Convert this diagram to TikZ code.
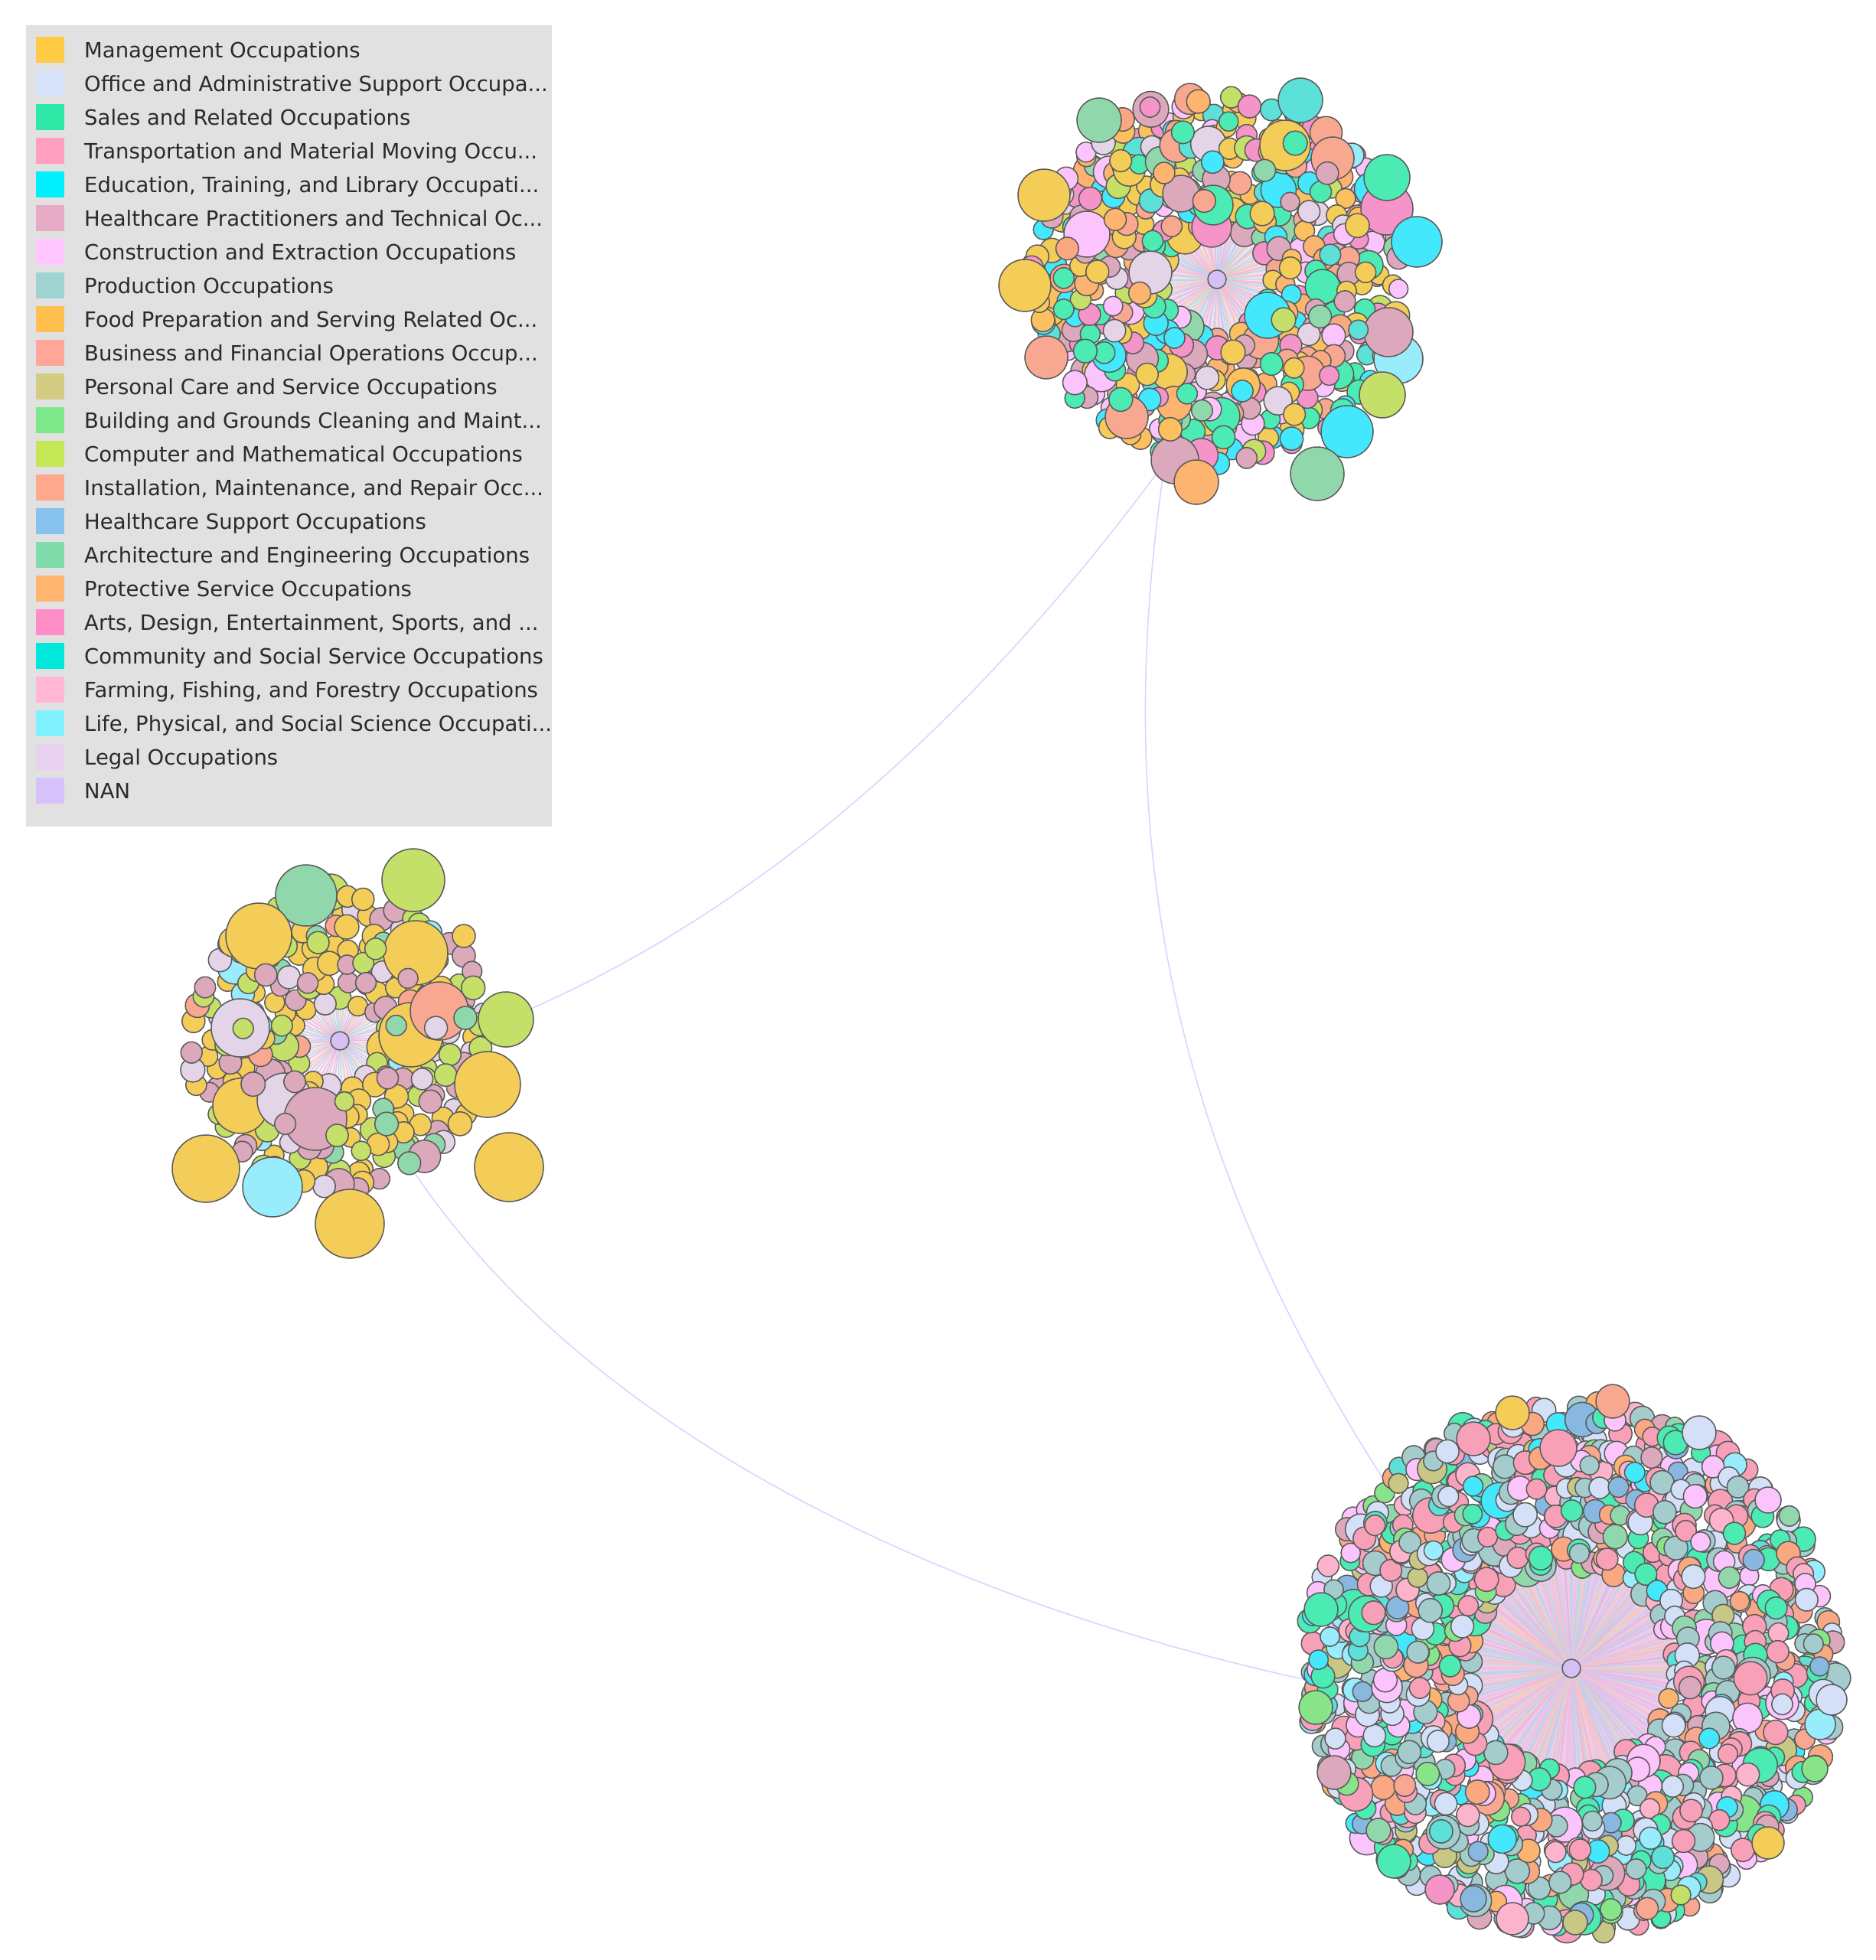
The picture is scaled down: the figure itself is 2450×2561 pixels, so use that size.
\documentclass[tikz,border=0pt]{standalone}
\usepackage{fontspec}
\setmainfont{DejaVu Sans}
% bubble colours
\definecolor{cMgmt}{HTML}{F4CC58}
\definecolor{cOffice}{HTML}{D4E0F8}
\definecolor{cSales}{HTML}{4CEBB4}
\definecolor{cTrans}{HTML}{F8A0B8}
\definecolor{cEdu}{HTML}{44E8FC}
\definecolor{cHP}{HTML}{DCA8BC}
\definecolor{cCons}{HTML}{FCC4FC}
\definecolor{cProd}{HTML}{A4CCCC}
\definecolor{cFood}{HTML}{FCC060}
\definecolor{cBus}{HTML}{F8A890}
\definecolor{cPers}{HTML}{C8C884}
\definecolor{cBldg}{HTML}{88E488}
\definecolor{cComp}{HTML}{C4E068}
\definecolor{cInst}{HTML}{F9A882}
\definecolor{cHS}{HTML}{88B8E0}
\definecolor{cArch}{HTML}{90D8AC}
\definecolor{cProt}{HTML}{FCB470}
\definecolor{cArts}{HTML}{F494C8}
\definecolor{cComm}{HTML}{5CE0D8}
\definecolor{cFarm}{HTML}{FCB4CC}
\definecolor{cLife}{HTML}{98ECFC}
\definecolor{cLegal}{HTML}{E4D4E8}
\definecolor{cNAN}{HTML}{D4C0F4}
\definecolor{cEdge}{HTML}{5A5A5A}
\definecolor{cLink}{HTML}{DCD4FF}
% legend colours
\definecolor{lMgmt}{HTML}{FFCB45}
\definecolor{lOffice}{HTML}{D5E2FA}
\definecolor{lSales}{HTML}{2EE8A8}
\definecolor{lTrans}{HTML}{FF9EBF}
\definecolor{lEdu}{HTML}{00F0FF}
\definecolor{lHP}{HTML}{E6AAC4}
\definecolor{lCons}{HTML}{FFC6FF}
\definecolor{lProd}{HTML}{9ED3D2}
\definecolor{lFood}{HTML}{FFC050}
\definecolor{lBus}{HTML}{FFA698}
\definecolor{lPers}{HTML}{D4CC82}
\definecolor{lBldg}{HTML}{7DE98A}
\definecolor{lComp}{HTML}{C5E655}
\definecolor{lInst}{HTML}{FFA88E}
\definecolor{lHS}{HTML}{88C2EE}
\definecolor{lArch}{HTML}{80DCAA}
\definecolor{lProt}{HTML}{FFB56F}
\definecolor{lArts}{HTML}{FF8DC8}
\definecolor{lComm}{HTML}{00E8DA}
\definecolor{lFarm}{HTML}{FFB7D3}
\definecolor{lLife}{HTML}{80F2FF}
\definecolor{lLegal}{HTML}{E9D2EF}
\definecolor{lNAN}{HTML}{D7C1FA}
\definecolor{lBack}{HTML}{E1E1E1}
\definecolor{cText}{HTML}{2A2A2A}
% spoke colours
\definecolor{spA}{HTML}{F0B4DC}
\definecolor{spB}{HTML}{C2D0F0}
\definecolor{spC}{HTML}{F4C4C8}
\definecolor{spD}{HTML}{DCC2EE}
\definecolor{spE}{HTML}{B4DCE4}
\definecolor{spF}{HTML}{F2BEE6}
\definecolor{spG}{HTML}{F8CCB8}
\definecolor{discB}{HTML}{EACDE8}
\definecolor{discT}{HTML}{EEE2F2}
\definecolor{discL}{HTML}{F4ECF0}

\pgfmathdeclarerandomlist{palTop}{{cEdu}{cEdu}{cEdu}{cSales}{cSales}{cSales}{cMgmt}{cMgmt}{cMgmt}{cHP}{cHP}{cHP}{cBus}{cBus}{cInst}{cArts}{cArts}{cCons}{cCons}{cComp}{cArch}{cProt}{cProt}{cLegal}{cComm}{cFood}}
\pgfmathdeclarerandomlist{palLeft}{{cMgmt}{cMgmt}{cMgmt}{cMgmt}{cMgmt}{cMgmt}{cMgmt}{cMgmt}{cComp}{cComp}{cComp}{cComp}{cHP}{cHP}{cHP}{cLegal}{cLegal}{cBus}{cArch}{cLife}}
\pgfmathdeclarerandomlist{palLeftTop}{{cHP}{cHP}{cHP}{cComp}{cComp}{cLegal}{cArch}{cBus}}
\pgfmathdeclarerandomlist{palBot}{{cProd}{cProd}{cProd}{cProd}{cProd}{cProd}{cOffice}{cOffice}{cOffice}{cOffice}{cOffice}{cTrans}{cTrans}{cTrans}{cTrans}{cTrans}{cTrans}{cSales}{cSales}{cSales}{cSales}{cCons}{cCons}{cCons}{cBus}{cInst}{cInst}{cProt}{cPers}{cBldg}{cHS}{cEdu}{cFarm}{cArch}{cComm}{cHP}{cLife}}
\pgfmathdeclarerandomlist{spokeList}{{spA}{spB}{spC}{spD}{spE}{spF}{spG}}

\tikzset{
  bub/.style={line width=1.5pt, draw=cEdge},
  link/.style={draw=cLink, line width=1.6pt},
  hubnode/.style={circle, minimum size=24pt, inner sep=0pt, fill=cNAN, draw=cEdge, line width=1.5pt},
  legtext/.style={font=\fontsize{27.5}{33}\selectfont, text=cText, inner sep=0pt, anchor=base west},
}

% rings of bubbles: hx, hy, radii list, spacing, palette, share of big ones
\newcommand\bubrings[6]{%
  \foreach \rrho in {#3}{%
    \pgfmathtruncatemacro\ncount{6.28318*\rrho/#4}%
    \pgfmathsetmacro\astep{360/\ncount}%
    \pgfmathsetmacro\aoff{360*rnd}%
    \foreach \jj in {1,...,\ncount}{%
      \pgfmathsetmacro\aang{\aoff+\astep*\jj+4*rand}%
      \pgfmathsetmacro\rrad{\rrho+7*rand}%
      \pgfmathsetmacro\crad{(rnd<#6) ? (18+6*rnd) : (12.5+3.5*rnd)}%
      \pgfmathrandomitem\bcol{#5}%
      \filldraw[bub, fill=\bcol] ({#1+\rrad*cos(\aang)},{#2+\rrad*sin(\aang)}) circle[radius=\crad pt];
    }%
  }%
}
\newcommand\bb[4]{\filldraw[bub, fill=#4] (#1,#2) circle[radius=#3pt];}
% spokes: hx, hy, length, count, width
\newcommand\spokes[5]{%
  \pgfmathsetmacro\sstep{360/#4}%
  \foreach \kk in {1,...,#4}{%
    \pgfmathsetmacro\sang{\sstep*\kk+1.5*rand}%
    \pgfmathrandomitem\scol{spokeList}%
    \draw[\scol, line width=#5pt] (#1,#2) -- ({#1+#3*cos(\sang)},{#2+#3*sin(\sang)});
  }%
}
\newcommand\legitem[3]{%
  \fill[#2] (46.5,{65+44*(#1-1)-17}) rectangle ++(37,34);
  \node[legtext] (leg#1) at (110,{65+44*(#1-1)+10.5}) {#3};
}

\begin{document}
\begin{tikzpicture}[x=1pt, y=-1pt, line join=round]
\pgfmathsetseed{7}
\fill[white] (0,0) rectangle (2450,2561);
\useasboundingbox (0,0) rectangle (2450,2561);

% ---------- connectors between clusters ----------
\coordinate (eT) at (1522,604);
\coordinate (eL1) at (661,1332);
\coordinate (eL2) at (536,1524);
\coordinate (eB1) at (1845,1990);
\coordinate (eB2) at (1780,2210);
\draw[link] (eT) .. controls (1290,920) and (1005,1190) .. (eL1);
\draw[link] (eT) .. controls (1438,1164) and (1565,1575) .. (eB1);
\draw[link] (eL2) .. controls (783,1897) and (1290,2115) .. (eB2);

% ---------- legend ----------
\fill[lBack] (34,33) rectangle (721,1080);
\legitem{1}{lMgmt}{Management Occupations}
\legitem{2}{lOffice}{Office and Administrative Support Occupa...}
\legitem{3}{lSales}{Sales and Related Occupations}
\legitem{4}{lTrans}{Transportation and Material Moving Occu...}
\legitem{5}{lEdu}{Education, Training, and Library Occupati...}
\legitem{6}{lHP}{Healthcare Practitioners and Technical Oc...}
\legitem{7}{lCons}{Construction and Extraction Occupations}
\legitem{8}{lProd}{Production Occupations}
\legitem{9}{lFood}{Food Preparation and Serving Related Oc...}
\legitem{10}{lBus}{Business and Financial Operations Occup...}
\legitem{11}{lPers}{Personal Care and Service Occupations}
\legitem{12}{lBldg}{Building and Grounds Cleaning and Maint...}
\legitem{13}{lComp}{Computer and Mathematical Occupations}
\legitem{14}{lInst}{Installation, Maintenance, and Repair Occ...}
\legitem{15}{lHS}{Healthcare Support Occupations}
\legitem{16}{lArch}{Architecture and Engineering Occupations}
\legitem{17}{lProt}{Protective Service Occupations}
\legitem{18}{lArts}{Arts, Design, Entertainment, Sports, and ...}
\legitem{19}{lComm}{Community and Social Service Occupations}
\legitem{20}{lFarm}{Farming, Fishing, and Forestry Occupations}
\legitem{21}{lLife}{Life, Physical, and Social Science Occupati...}
\legitem{22}{lLegal}{Legal Occupations}
\legitem{23}{lNAN}{NAN}

% ---------- left cluster ----------
\fill[discL] (444,1360) circle[radius=62pt];
\spokes{444}{1360}{62}{70}{1.3}
\bubrings{444}{1360}{124,58,168,80,190,102,146}{23}{palLeft}{0.05}
\bb{400}{1170}{40}{cArch}
\bb{540}{1150}{41}{cComp}
\bb{338}{1223}{43}{cMgmt}
\bb{543}{1245}{42}{cMgmt}
\bb{537}{1352}{42}{cMgmt}
\bb{574}{1321}{38}{cBus}
\bb{661}{1332}{36}{cComp}
\bb{608}{1330}{15}{cArch}
\bb{314}{1343}{38}{cLegal}
\bb{637}{1417}{43}{cMgmt}
\bb{314}{1445}{36}{cMgmt}
\bb{372}{1438}{36}{cLegal}
\bb{412}{1462}{41}{cHP}
\bb{269}{1527}{44}{cMgmt}
\bb{356}{1551}{39}{cLife}
\bb{457}{1599}{45}{cMgmt}
\bb{665}{1525}{45}{cMgmt}
\bb{606}{1223}{15}{cMgmt}
\bubrings{444}{1360}{80,125}{70}{palLeftTop}{0}
\node[hubnode] (hubL) at (444,1360) {};

% ---------- top cluster ----------
\fill[discT] (1590,365) circle[radius=80pt];
\spokes{1590}{365}{80}{110}{1.4}
\bubrings{1590}{365}{156,76,216,116,196,96,236,136,176}{21}{palTop}{0.12}
\bb{1436}{157}{29}{cArch}
\bb{1699}{131}{29}{cComm}
\bb{1679}{190}{33}{cMgmt}
\bb{1766}{203}{16}{cLife}
\bb{1741}{207}{28}{cBus}
\bb{1812}{273}{34}{cArts}
\bb{1812}{232}{30}{cSales}
\bb{1851}{316}{33}{cEdu}
\bb{1364}{255}{34}{cMgmt}
\bb{1339}{373}{34}{cMgmt}
\bb{1420}{306}{30}{cCons}
\bb{1543}{253}{24}{cHP}
\bb{1583}{297}{26}{cArts}
\bb{1585}{268}{26}{cSales}
\bb{1503}{356}{28}{cLegal}
\bb{1656}{412}{30}{cEdu}
\bb{1827}{469}{32}{cLife}
\bb{1814}{434}{32}{cHP}
\bb{1367}{467}{28}{cBus}
\bb{1472}{545}{28}{cBus}
\bb{1806}{516}{30}{cComp}
\bb{1760}{564}{34}{cEdu}
\bb{1721}{619}{35}{cArch}
\bb{1535}{601}{31}{cHP}
\bb{1563}{630}{29}{cProt}
\bubrings{1590}{365}{100,150,200}{70}{palTop}{0}
\node[hubnode] (hubT) at (1590,365) {};

% ---------- bottom cluster ----------
\fill[discB] (2053,2180) circle[radius=140pt];
\spokes{2053}{2180}{140}{230}{1.8}
\bubrings{2053}{2180}{222,137,307,171,256,341,188,290,154,273,205,324,239}{18}{palBot}{0.07}
\bb{1726}{2103}{22}{cSales}
\bb{1719}{2231}{22}{cBldg}
\bb{1743}{2316}{22}{cHP}
\bb{1821}{2432}{22}{cSales}
\bb{1881}{2469}{19}{cArts}
\bb{1925}{2481}{17}{cHS}
\bb{1976}{2507}{21}{cFarm}
\bb{2058}{2512}{16}{cPers}
\bb{2310}{2408}{21}{cMgmt}
\bb{2378}{2253}{20}{cLife}
\bb{2393}{2221}{20}{cOffice}
\bb{2371}{2311}{17}{cBldg}
\bb{2220}{1872}{22}{cOffice}
\bb{2310}{1960}{17}{cCons}
\bb{1976}{1846}{22}{cMgmt}
\bb{2107}{1831}{22}{cBus}
\bb{1925}{1880}{22}{cTrans}
\bb{2036}{1892}{24}{cTrans}
\bb{2196}{2476}{13}{cComp}
\node[hubnode] (hubB) at (2053,2180) {};
\end{tikzpicture}
\end{document}
